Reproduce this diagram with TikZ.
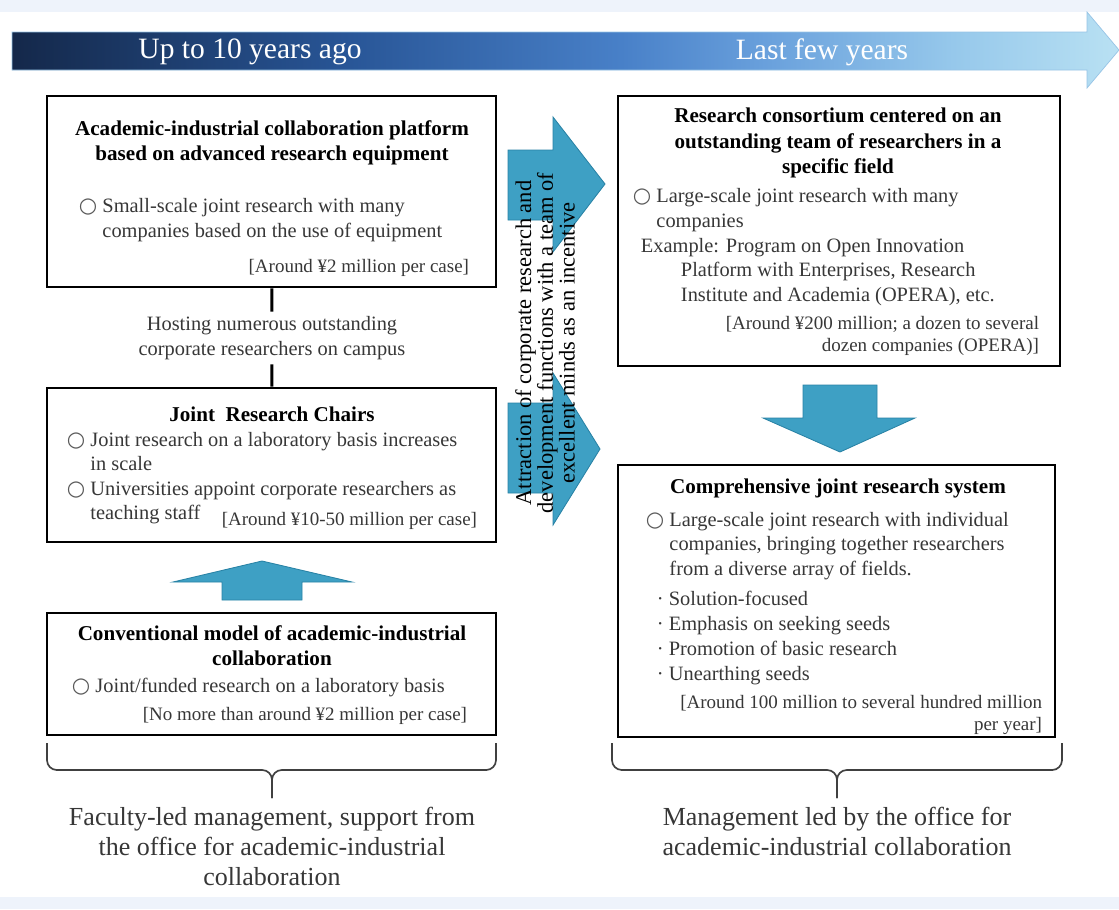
\documentclass[tikz,border=0pt]{standalone}
\usepackage{fontspec}
\setmainfont{Liberation Serif}
\newfontfamily\symfont{DejaVu Sans}
\usetikzlibrary{shapes, arrows, positioning, fit, calc}

\definecolor{pagetint}{RGB}{238,243,251}
\definecolor{navy}{RGB}{20,40,74}
\definecolor{deepblue}{RGB}{40,85,150}
\definecolor{midblue}{RGB}{72,128,200}
\definecolor{skyblue}{RGB}{105,160,220}
\definecolor{lightblue}{RGB}{150,200,235}
\definecolor{paleblue}{RGB}{185,225,243}
\definecolor{tealarrow}{RGB}{62,160,196}
\definecolor{tealedge}{RGB}{40,130,165}
\definecolor{bodygray}{RGB}{55,55,55}

\pgfdeclarehorizontalshading{timeline}{100bp}{color(0bp)=(navy); color(25bp)=(navy);
  color(40bp)=(deepblue); color(52.5bp)=(midblue); color(59bp)=(skyblue);
  color(67.5bp)=(lightblue); color(75bp)=(paleblue); color(100bp)=(paleblue)}

\newcommand{\ring}{{\symfont\fontsize{15}{15}\selectfont\color{black!65}○}}

\tikzset{
    every node/.style={font=\fontsize{14.5}{17.4}\selectfont, text=bodygray},
    box/.style={draw=black, line width=2pt, fill=white, inner sep=0pt},
    title text/.style={font=\fontsize{15}{18}\selectfont\bfseries, text=black, align=center},
    item/.style={anchor=west, align=left},
    seed item/.style={anchor=base west},
    price/.style={anchor=east, align=right, font=\fontsize{13.5}{16.2}\selectfont},
    block arrow/.style={fill=tealarrow, draw=tealedge, line width=0.6pt},
    link/.style={line width=2.2pt},
    brace line/.style={line width=1.2pt, rounded corners=7pt, draw=black!75},
    footer/.style={font=\fontsize{18.5}{21.3}\selectfont, align=center},
    era/.style={font=\fontsize{21}{25}\selectfont, text=white}
}

\begin{document}
\begin{tikzpicture}[x=0.025cm, y=-0.025cm]
  \useasboundingbox (0,0) rectangle (1119,909);
  \fill[pagetint] (0,0) rectangle (1119,909);
  \fill[white] (0,12) rectangle (1119,897);

  % time line
  \shadedraw[shading=timeline, draw=paleblue!70!midblue, line width=0.5pt]
    (12,32) -- (1087,32) -- (1087,12) -- (1119,50) -- (1087,88) -- (1087,70) -- (12,70) -- cycle;
  \node[era] (past) at (250,52) {Up to 10 years ago};
  \node[era] (recent) at (822,52) {Last few years};

  % left column
  \node[box, fit={(47,96) (496,287)}] (platform) {};
  \node[title text] (platform title) at (272,143)
    {Academic-industrial collaboration platform\\based on advanced research equipment};
  \node[item] (platform item) at (74,220)
    {\ring\ Small-scale joint research with many\\\phantom{\ring\ }companies based on the use of equipment};
  \node[price] (platform cost) at (474,268) {[Around ¥2 million per case]};

  \node[box, fit={(47,388) (496,542)}] (chairs) {};
  \node[title text] (chairs title) at (272,414) {Joint\ \ Research Chairs};
  \node[item] (chairs item) at (62,478)
    {\ring\ Joint research on a laboratory basis increases\\\phantom{\ring\ }in scale\\
     \ring\ Universities appoint corporate researchers as\\\phantom{\ring\ }teaching staff};
  \node[price] (chairs cost) at (482,521) {[Around ¥10-50 million per case]};

  \node[align=center] (host) at (272,338)
    {Hosting numerous outstanding\\corporate researchers on campus};
  \draw[link] (platform) -- (host);
  \draw[link] (host) -- (chairs);

  \path[block arrow] (222,600) -- (222,582) -- (173,582) -- (262,561)
    -- (352,582) -- (302,582) -- (302,600) -- cycle;

  \node[box, fit={(47,613) (496,735)}] (conventional) {};
  \node[title text] (conventional title) at (272,646)
    {Conventional model of academic-industrial\\collaboration};
  \node[item] (conventional item) at (67,688) {\ring\ Joint/funded research on a laboratory basis};
  \node[price] (conventional cost) at (472,716) {[No more than around ¥2 million per case]};

  \coordinate (left tip) at (272,798);
  \draw[brace line] (47,743) -- (47,770) -- (272,770) -- (left tip);
  \draw[brace line] (496,743) -- (496,770) -- (272,770) -- (left tip);
  \node[footer, below=3pt of left tip] (faculty)
    {Faculty-led management, support from\\the office for academic-industrial\\collaboration};

  % right column
  \node[box, fit={(618,96) (1060,366)}] (consortium) {};
  \node[title text] (consortium title) at (838,143)
    {Research consortium centered on an\\outstanding team of researchers in a\\specific field};
  \node[item] (consortium item) at (628,210)
    {\ring\ Large-scale joint research with many\\\phantom{\ring\ }companies};
  \node[item] (opera) at (636,272)
    {Example: Program on Open Innovation\\\hspace*{1cm}Platform with Enterprises, Research\\
     \hspace*{1cm}Institute and Academia (OPERA), etc.};
  \node[price] (consortium cost) at (1044,336)
    {[Around ¥200 million; a dozen to several\\dozen companies (OPERA)]};

  \path[block arrow] (803,385) -- (877,385) -- (877,418) -- (915,418)
    -- (840,452) -- (763,418) -- (803,418) -- cycle;

  \node[box, fit={(618,465) (1055,737)}] (comprehensive) {};
  \node[title text] (comprehensive title) at (838,488) {Comprehensive joint research system};
  \node[item] (comprehensive item) at (641,546)
    {\ring\ Large-scale joint research with individual\\\phantom{\ring\ }companies, bringing together researchers\\
     \phantom{\ring\ }from a diverse array of fields.};
  \foreach \t [count=\i] in {Solution-focused, Emphasis on seeking seeds,
      Promotion of basic research, Unearthing seeds}
    \node[seed item] (seed\i) at (652,580+25*\i) {·\ \t};
  \node[price] (comprehensive cost) at (1047,715)
    {[Around 100 million to several hundred million\\per year]};

  \coordinate (right tip) at (837,798);
  \draw[brace line] (612,743) -- (612,770) -- (837,770) -- (right tip);
  \draw[brace line] (1062,743) -- (1062,770) -- (837,770) -- (right tip);
  \node[footer, below=3pt of right tip] (office)
    {Management led by the office for\\academic-industrial collaboration};

  % middle arrows
  \path[block arrow] (508,150) -- (553,150) -- (553,117) -- (605,184)
    -- (553,252) -- (553,220) -- (508,220) -- cycle;
  \path[block arrow] (508,403) -- (553,403) -- (553,373) -- (600,449)
    -- (553,525) -- (553,493) -- (508,493) -- cycle;
  \node[rotate=90, align=center, text=black, font=\fontsize{16}{15.5}\selectfont] (attraction) at (545,343)
    {Attraction of corporate research and\\development functions with a team of\\excellent minds as an incentive};
\end{tikzpicture}
\end{document}
